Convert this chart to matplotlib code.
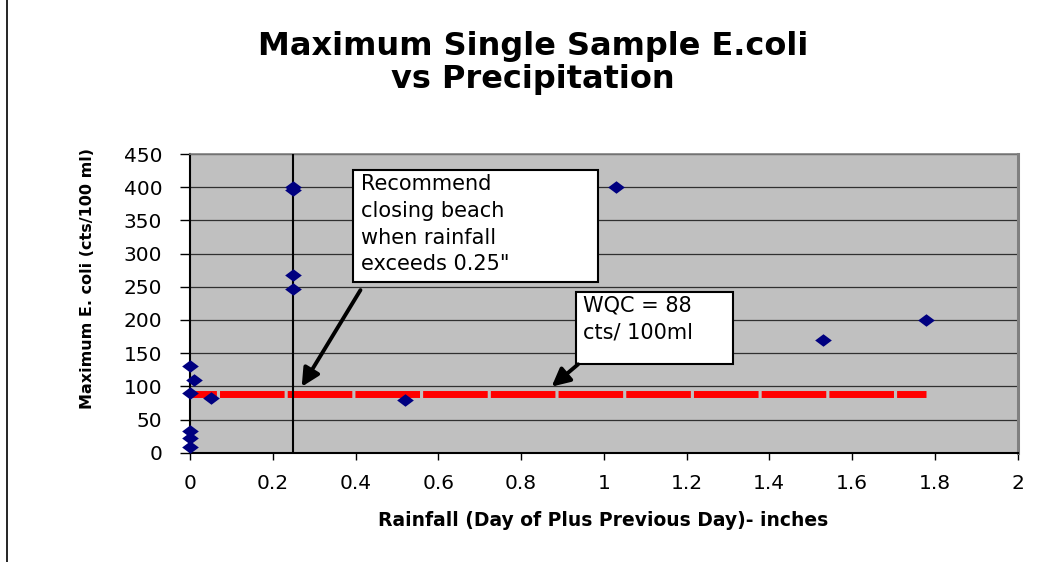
import matplotlib
matplotlib.use("Agg")
import matplotlib.pyplot as plt
from matplotlib.lines import Line2D
from matplotlib.patches import Rectangle
from matplotlib.path import Path

# Data
rainfall = [0, 0, 0, 0, 0, 0.01, 0.05, 0.25, 0.25, 0.25, 0.25, 0.52, 1.03, 1.53, 1.78]
ecoli = [130, 90, 32, 22, 8, 110, 82, 400, 396, 268, 247, 80, 400, 170, 200]
wqc_limit = 88
rain_threshold = 0.25

x_ticks = [0, 0.2, 0.4, 0.6, 0.8, 1.0, 1.2, 1.4, 1.6, 1.8, 2.0]
x_tick_labels = ["0", "0.2", "0.4", "0.6", "0.8", "1", "1.2", "1.4", "1.6", "1.8", "2"]
y_ticks = [0, 50, 100, 150, 200, 250, 300, 350, 400, 450]

title = "Maximum Single Sample E.coli\nvs Precipitation"
x_label = "Rainfall (Day of Plus Previous Day)- inches"
y_label = "Maximum E. coli (cts/100 ml)"
note_close = 'Recommend\nclosing beach\nwhen rainfall\nexceeds 0.25"'
note_wqc = "WQC = 88\ncts/ 100ml"

plt.rcParams["font.family"] = ["DejaVu Sans"]

fig = plt.figure(figsize=(10.5, 5.62), dpi=100)
ax = fig.add_axes([190 / 1050, 1 - 452.7 / 562, 827.5 / 1050, 298.7 / 562])
ax.set_facecolor("#C0C0C0")
ax.set_xlim(0, 2)
ax.set_ylim(0, 450)

# horizontal gridlines
for y in y_ticks[1:]:
    ax.axhline(y, color="#303030", lw=0.9, zorder=1)

# WQC criterion line (thick red dashed)
ax.plot(
    [min(rainfall), max(rainfall)],
    [wqc_limit, wqc_limit],
    color="#FF0000",
    lw=5,
    linestyle=(5.5, (9.3, 0.45)),
    solid_capstyle="butt",
    dash_capstyle="butt",
    zorder=2,
)

# rainfall threshold
ax.axvline(rain_threshold, color="black", lw=1.5, zorder=3)

diamond = Path([(-1, 0), (0, 0.75), (1, 0), (0, -0.75), (-1, 0)],
               [Path.MOVETO, Path.LINETO, Path.LINETO, Path.LINETO, Path.CLOSEPOLY])
ax.plot(rainfall, ecoli, linestyle="none", marker=diamond, markersize=12,
        color="#000080", markeredgewidth=0, zorder=5, clip_on=False)

# spines / ticks
for side in ("left", "bottom"):
    ax.spines[side].set_color("black")
    ax.spines[side].set_linewidth(1.5)
ax.spines["top"].set_color("#808080")
ax.spines["top"].set_linewidth(1.2)
ax.spines["right"].set_color("#808080")
ax.spines["right"].set_linewidth(2.2)

ax.set_xticks(x_ticks)
ax.set_xticklabels(x_tick_labels)
ax.set_yticks(y_ticks)
ax.tick_params(axis="y", direction="out", length=7, width=1, pad=13, labelsize=14.5)
ax.tick_params(axis="x", direction="out", length=5, width=1, pad=10, labelsize=14.5)

# annotation boxes
ax.add_patch(Rectangle((0.394, 257.2), 0.986 - 0.394, 425.9 - 257.2,
                       facecolor="white", edgecolor="black", lw=1.5, zorder=6, clip_on=False))
ax.text(0.413, 419.5, note_close, ha="left", va="top", fontsize=15,
        linespacing=1.42, zorder=7)

ax.add_patch(Rectangle((0.934, 133.2), 1.313 - 0.934, 241.6 - 133.2,
                       facecolor="white", edgecolor="black", lw=1.5, zorder=6))
ax.text(0.949, 237.0, note_wqc, ha="left", va="top", fontsize=15,
        linespacing=1.42, zorder=7)

arrow = dict(arrowstyle="-|>", color="black", lw=2.8, mutation_scale=27,
             shrinkA=0, shrinkB=0)
ax.annotate("", xy=(0.270, 99.4), xytext=(0.412, 245), arrowprops=arrow, zorder=6)
ax.annotate("", xy=(0.874, 99.5), xytext=(0.938, 133.2), arrowprops=arrow, zorder=6)

# titles and labels
fig.text(533 / 1050, 1 - 63 / 562, title, ha="center", va="center",
         fontsize=23, fontweight="bold", linespacing=1.12)
fig.text(603 / 1050, 1 - 521 / 562, x_label, ha="center", va="center",
         fontsize=13.5, fontweight="bold")
fig.text(88 / 1050, 1 - 278 / 562, y_label, ha="center", va="center",
         rotation=90, fontsize=11.5, fontweight="bold")

# chart border on the left edge
fig.add_artist(Line2D([6.5 / 1050, 6.5 / 1050], [0, 1], transform=fig.transFigure,
                      color="black", lw=1.2))

fig.savefig("out.png", dpi=100)
plt.close(fig)
